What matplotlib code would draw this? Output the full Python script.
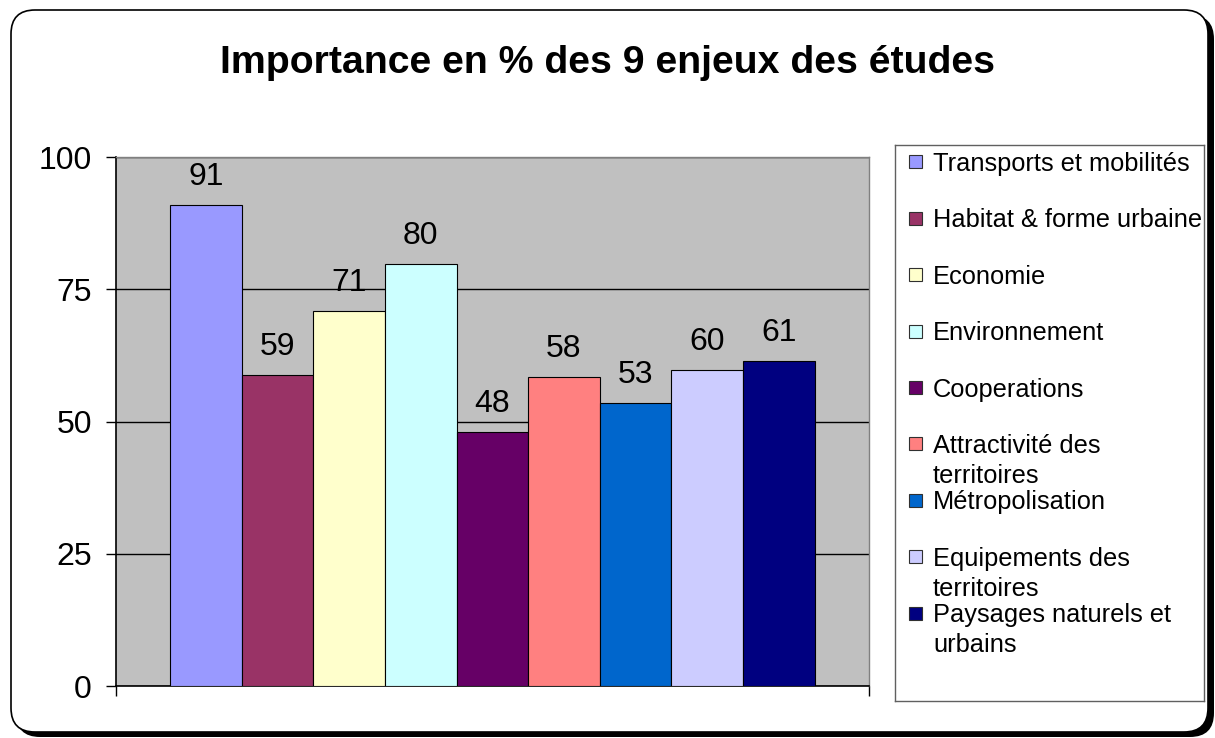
import matplotlib
matplotlib.use("Agg")
import matplotlib.pyplot as plt
from matplotlib.patches import FancyBboxPatch, Rectangle

plt.rcParams['font.family'] = ['Liberation Sans', 'DejaVu Sans']

# ---- data ----
categories = ["Transports et mobilités", "Habitat & forme urbaine", "Economie",
              "Environnement", "Cooperations", "Attractivité des\nterritoires",
              "Métropolisation", "Equipements des\nterritoires",
              "Paysages naturels et\nurbains"]
values = [90.9, 58.8, 70.9, 79.9, 48.1, 58.4, 53.6, 59.7, 61.4]
value_labels = ["91", "59", "71", "80", "48", "58", "53", "60", "61"]
colors = ["#9999FF", "#993366", "#FFFFCC", "#CCFFFF", "#660066",
          "#FF8080", "#0066CC", "#CCCCFF", "#000080"]
yticks = [0, 25, 50, 75, 100]
title = "Importance en % des 9 enjeux des études"

W, H = 1215, 738
fig = plt.figure(figsize=(W / 100, H / 100), dpi=100)

# ---- outer rounded frame with shadow (pixel coordinates) ----
def px_box(x0, y0, x1, y1, **kw):
    r = 24
    return FancyBboxPatch((x0 + r, H - y1 + r), (x1 - x0) - 2 * r, (y1 - y0) - 2 * r,
                          boxstyle=f"round,pad={r}", transform=None, **kw)

fig.patches.append(px_box(16, 15, 1214, 737, facecolor="black", edgecolor="black",
                          lw=0, zorder=-20))
fig.patches.append(px_box(11, 10, 1208, 732, facecolor="white", edgecolor="black",
                          lw=1.2, zorder=-10))

# ---- main axes ----
ax = fig.add_axes([115.7 / W, 1 - 686 / H, (869 - 115.7) / W, (686 - 157.3) / H])
ax.set_facecolor("#C0C0C0")
x = list(range(len(values)))
bars = ax.bar(x, values, width=1.0, color=colors, edgecolor="black", linewidth=0.8, zorder=3)
for xi, v, lab in zip(x, values, value_labels):
    ax.annotate(lab, (xi, v), xytext=(0, 14.4), textcoords="offset points",
                ha="center", va="baseline", fontsize=23, zorder=4)

ax.set_ylim(0, 100)
ax.set_xlim(-1.26, len(values) - 1 + 1.26)
ax.set_yticks(yticks)
ax.set_yticklabels([str(t) for t in yticks], fontsize=23)
ax.yaxis.grid(True, color="black", linewidth=1.0, zorder=1)
ax.set_axisbelow(True)
ax.tick_params(axis="y", direction="out", length=7.2, width=1, pad=10, color="black")
ax.set_xticks([ax.get_xlim()[0], ax.get_xlim()[1]])
ax.set_xticklabels(["", ""])
ax.tick_params(axis="x", direction="out", length=7.2, width=1, color="black")
for s in ["left", "bottom"]:
    ax.spines[s].set_color("black")
    ax.spines[s].set_linewidth(1.2)
for s in ["top", "right"]:
    ax.spines[s].set_color("#808080")
    ax.spines[s].set_linewidth(1.0)

# ---- title ----
fig.text(0.5, 1 - 73 / H, title, ha="center", va="baseline",
         fontsize=28.3, fontweight="bold")

# ---- legend (manual, in pixel-like coordinates) ----
lx0, lx1, ly0, ly1 = 895, 1204, 145, 701
lax = fig.add_axes([lx0 / W, 1 - ly1 / H, (lx1 - lx0) / W, (ly1 - ly0) / H])
lax.set_xlim(lx0, lx1)
lax.set_ylim(ly1, ly0)
lax.set_xticks([])
lax.set_yticks([])
lax.set_facecolor("white")
for s in lax.spines.values():
    s.set_color("#606060")
    s.set_linewidth(1.0)
y_start, spacing, line_gap = 162, 56.4, 30
for i, (lab, c) in enumerate(zip(categories, colors)):
    yc = y_start + i * spacing
    lax.add_patch(Rectangle((909, yc - 6.5), 13, 13, facecolor=c,
                            edgecolor="#303030", linewidth=0.8))
    for j, line in enumerate(lab.split("\n")):
        lax.text(933, yc + 9 + j * line_gap, line, ha="left", va="baseline",
                 fontsize=18.3, clip_on=False)

fig.savefig("out.png", dpi=100)
